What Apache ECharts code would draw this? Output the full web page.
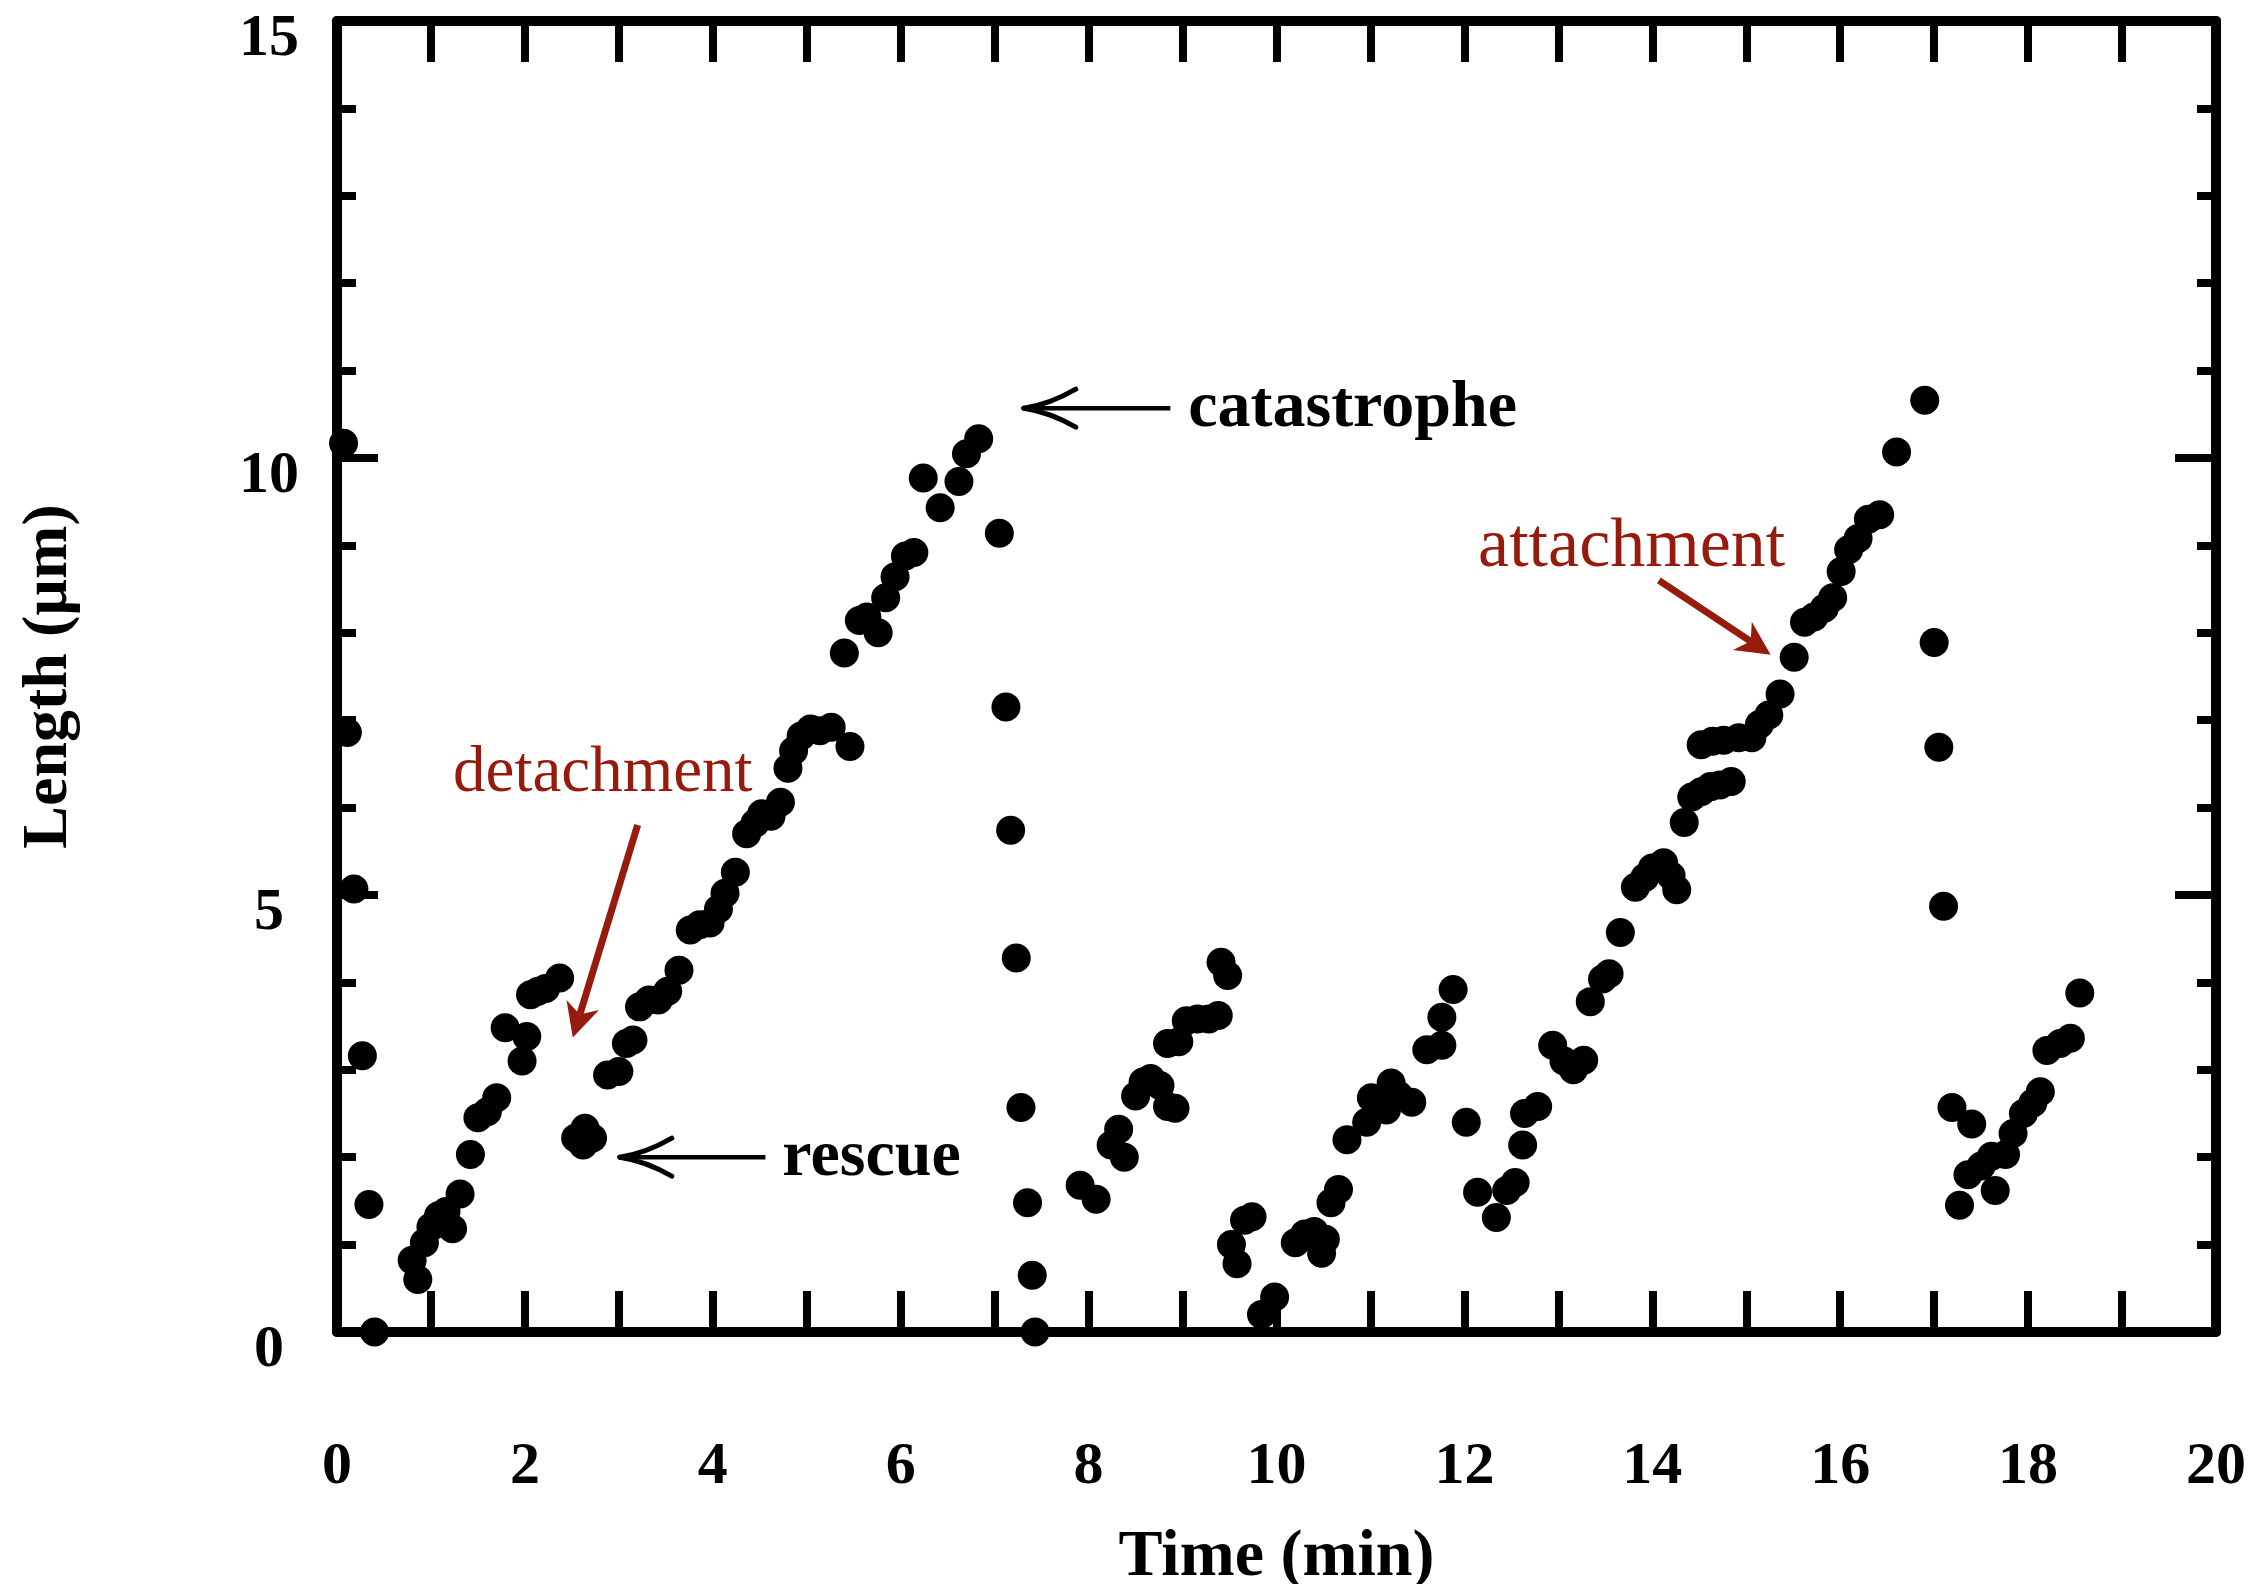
<!DOCTYPE html>
<html><head><meta charset="utf-8">
<script src="https://cdn.jsdelivr.net/npm/echarts@6/dist/echarts.min.js"></script>
<style>html,body{margin:0;padding:0;background:#fff}#c{width:2264px;height:1584px}</style>
</head><body><div id="c"></div>
<script>
// ---- data: [time (min), length (um)] ----
const shrinkA = [[0.07,10.17],[0.11,6.86],[0.18,5.07],[0.27,3.16],[0.34,1.46],[0.40,0.0]];
const growB = [[0.80,0.82],[0.86,0.60],[0.93,1.02],[1.00,1.20],[1.08,1.33],[1.16,1.38],[1.23,1.18],[1.31,1.58],[1.42,2.03],[1.50,2.45],[1.60,2.52],[1.70,2.68],[1.79,3.48],[1.97,3.10],[2.02,3.38],[2.06,3.86],[2.14,3.90],[2.22,3.93],[2.37,4.05]];
const rescueC = [[2.54,2.22],[2.64,2.33],[2.72,2.22],[2.62,2.14]];
const growC = [[2.88,2.94],[3.00,2.98],[3.08,3.30],[3.15,3.34],[3.22,3.72],[3.32,3.80],[3.42,3.80],[3.52,3.90],[3.64,4.14],[3.76,4.60],[3.86,4.66],[3.97,4.68],[4.06,4.84],[4.13,5.02],[4.24,5.26],[4.36,5.70],[4.45,5.82],[4.52,5.93],[4.62,5.90],[4.72,6.06],[4.80,6.45],[4.86,6.65],[4.94,6.82],[5.04,6.90],[5.14,6.88],[5.26,6.92],[5.46,6.70],[5.40,7.77],[5.56,8.14],[5.64,8.18],[5.76,8.00],[5.84,8.40],[5.94,8.64],[6.05,8.88],[6.14,8.92],[6.24,9.77],[6.42,9.43],[6.62,9.73],[6.70,10.05],[6.83,10.22]];
const shrink1 = [[7.05,9.14],[7.12,7.15],[7.17,5.74],[7.23,4.28],[7.28,2.57],[7.35,1.48],[7.40,0.65],[7.43,0.0]];
const growD = [[7.91,1.68],[8.08,1.52],[8.24,2.14],[8.32,2.32],[8.38,2.00],[8.50,2.70],[8.58,2.86],[8.66,2.90],[8.76,2.82],[8.84,2.58],[8.92,2.56],[8.84,3.30],[8.96,3.32],[9.04,3.56],[9.16,3.58],[9.28,3.58],[9.38,3.62],[9.41,4.23],[9.48,4.08]];
const growE = [[9.52,1.00],[9.58,0.78],[9.66,1.28],[9.74,1.32],[9.84,0.20],[9.98,0.40],[10.20,1.02],[10.30,1.12],[10.40,1.15],[10.48,0.90],[10.52,1.06],[10.58,1.48],[10.66,1.63],[10.75,2.20],[10.96,2.40],[11.01,2.68],[11.17,2.54],[11.22,2.85],[11.30,2.71],[11.44,2.63],[11.60,3.23],[11.76,3.28],[11.76,3.60],[11.88,3.92],[12.02,2.40]];
const growF = [[12.14,1.60],[12.34,1.31],[12.45,1.62],[12.54,1.71],[12.62,2.14],[12.64,2.50],[12.78,2.58],[12.94,3.28],[13.06,3.10],[13.16,3.00],[13.27,3.11],[13.34,3.78],[13.47,4.04],[13.54,4.10],[13.66,4.57],[13.82,5.09],[13.92,5.20],[14.00,5.31],[14.12,5.37],[14.20,5.22],[14.26,5.06],[14.34,5.83],[14.42,6.12],[14.52,6.18],[14.62,6.24],[14.72,6.26],[14.84,6.30],[14.52,6.72],[14.64,6.76],[14.76,6.77],[14.92,6.80],[15.06,6.80],[15.14,6.95],[15.24,7.06],[15.36,7.30],[15.51,7.72],[15.62,8.12],[15.72,8.18],[15.83,8.28],[15.92,8.40],[16.01,8.70],[16.09,8.95],[16.19,9.08],[16.30,9.30],[16.42,9.35],[16.60,10.07],[16.90,10.66]];
const shrink2 = [[17.00,7.89],[17.05,6.69],[17.10,4.87]];
const growG = [[17.19,2.57],[17.27,1.45],[17.36,1.80],[17.40,2.38],[17.50,1.90],[17.61,2.01],[17.65,1.62],[17.76,2.03],[17.84,2.27],[17.95,2.50],[18.05,2.62],[18.13,2.75],[18.20,3.22],[18.34,3.30],[18.45,3.36],[18.55,3.88]];

const xTickLabels = [0,2,4,6,8,10,12,14,16,18,20];
const yTickLabels = [0,5,10,15];
const xTitle = 'Time (min)';
const yTitle = 'Length (\u00b5m)';

// annotations, anchored in data coordinates
const annotations = [
  {label:'catastrophe', kind:'black', size:66, textAt:[9.06,10.56], from:[8.87,10.57], to:[7.31,10.57]},
  {label:'rescue', kind:'black', size:66, textAt:[4.74,1.99], from:[4.56,2.00], to:[3.01,2.00]},
  {label:'detachment', kind:'red', size:65, textAt:[2.83,6.38], from:[3.20,5.80], to:[2.51,3.37]},
  {label:'attachment', kind:'red', size:70, textAt:[13.78,8.98], from:[14.07,8.60], to:[15.26,7.75]}
];

const segments = [shrinkA, growB, rescueC, growC, shrink1, growD, growE, growF, shrink2, growG];

const SERIF = "'Liberation Serif', 'DejaVu Serif', serif";
const RED = '#971B0C';
const chart = echarts.init(document.getElementById('c'), null, {renderer:'canvas'});

function xAxisCfg(pos, showLabel){
  return {
    type:'value', position:pos, min:0, max:20, interval:2,
    axisLine:{show:true, onZero:false, lineStyle:{color:'#000', width:10}},
    axisTick:{show:true, inside:true, length:41, lineStyle:{color:'#000', width:8}},
    minorTick:{show:true, splitNumber:2, length:41, lineStyle:{color:'#000', width:8}},
    splitLine:{show:false}, minorSplitLine:{show:false},
    axisLabel:{show:showLabel, margin:105, fontSize:60, fontWeight:'bold', fontFamily:SERIF, color:'#000',
      formatter: v => xTickLabels.includes(v) ? String(v) : ''},
    name: showLabel ? xTitle : '', nameLocation:'middle', nameGap:193,
    nameTextStyle:{fontSize:66, fontWeight:'bold', fontFamily:SERIF, color:'#000'}
  };
}
function yAxisCfg(pos, showLabel){
  return {
    type:'value', position:pos, min:0, max:15, interval:5,
    axisLine:{show:true, onZero:false, lineStyle:{color:'#000', width:10}},
    axisTick:{show:true, inside:true, length:41, lineStyle:{color:'#000', width:8}},
    minorTick:{show:true, splitNumber:5, length:19, lineStyle:{color:'#000', width:8}},
    splitLine:{show:false}, minorSplitLine:{show:false},
    axisLabel:{show:showLabel, margin:68, align:'center', verticalAlign:'top', lineHeight:36,
      fontSize:60, fontWeight:'bold', fontFamily:SERIF, color:'#000',
      formatter: v => yTickLabels.includes(v) ? String(v) : ''},
    name: showLabel ? yTitle : '', nameLocation:'middle', nameGap:256, nameRotate:90,
    nameTextStyle:{fontSize:64, fontWeight:'bold', fontFamily:SERIF, color:'#000'}
  };
}

chart.setOption({
  animation:false,
  backgroundColor:'#fff',
  grid:{left:337, right:48, top:21, bottom:252, containLabel:false, outerBoundsMode:'none'},
  xAxis:[xAxisCfg('bottom', true), xAxisCfg('top', false)],
  yAxis:[yAxisCfg('left', true), yAxisCfg('right', false)],
  series: segments.map(seg => ({
    type:'scatter', xAxisIndex:0, yAxisIndex:0, data:seg, symbol:'circle', symbolSize:29,
    itemStyle:{color:'#000', opacity:1}, silent:true, z:3
  }))
});

// build annotation graphics from data anchors
const px = p => chart.convertToPixel({xAxisIndex:0, yAxisIndex:0}, p);
const graphics = [];
annotations.forEach(a => {
  const t = px(a.textAt), f = px(a.from), e = px(a.to);
  const dx = e[0]-f[0], dy = e[1]-f[1], len = Math.hypot(dx,dy);
  const ux = dx/len, uy = dy/len, nx = -uy, ny = ux;
  if (a.kind === 'black') {
    graphics.push({type:'text', x:t[0], y:t[1], z:10, style:{text:a.label, fontSize:a.size, fontWeight:'bold', fontFamily:SERIF,
      fill:'#000', align:'left', textAlign:'left', verticalAlign:'middle', textVerticalAlign:'middle'}});
    graphics.push({type:'line', z:10, shape:{x1:f[0], y1:f[1], x2:e[0]-ux*4, y2:e[1]-uy*4}, style:{stroke:'#000', lineWidth:4.5}});
    const L = 52, W = 19;
    [1,-1].forEach(s => {
      graphics.push({type:'bezierCurve', z:10, shape:{
        x1:e[0], y1:e[1],
        cpx1:e[0]-ux*L*0.5 + nx*W*0.2*s, cpy1:e[1]-uy*L*0.5 + ny*W*0.2*s,
        x2:e[0]-ux*L + nx*W*s, y2:e[1]-uy*L + ny*W*s},
        style:{stroke:'#000', lineWidth:5, fill:null, lineCap:'round'}});
    });
  } else {
    graphics.push({type:'text', x:t[0], y:t[1], z:10, style:{text:a.label, fontSize:a.size, fontFamily:SERIF,
      fill:RED, align:'center', textAlign:'center', verticalAlign:'middle', textVerticalAlign:'middle'}});
    const L = 34, W = 17, ind = 10;
    graphics.push({type:'line', z:10, shape:{x1:f[0], y1:f[1], x2:e[0]-ux*(L-ind), y2:e[1]-uy*(L-ind)}, style:{stroke:RED, lineWidth:7}});
    graphics.push({type:'polygon', z:10, shape:{points:[
      [e[0], e[1]],
      [e[0]-ux*L + nx*W, e[1]-uy*L + ny*W],
      [e[0]-ux*(L-ind), e[1]-uy*(L-ind)],
      [e[0]-ux*L - nx*W, e[1]-uy*L - ny*W]
    ]}, style:{fill:RED}});
  }
});
chart.setOption({graphic: graphics});
</script>
</body></html>
